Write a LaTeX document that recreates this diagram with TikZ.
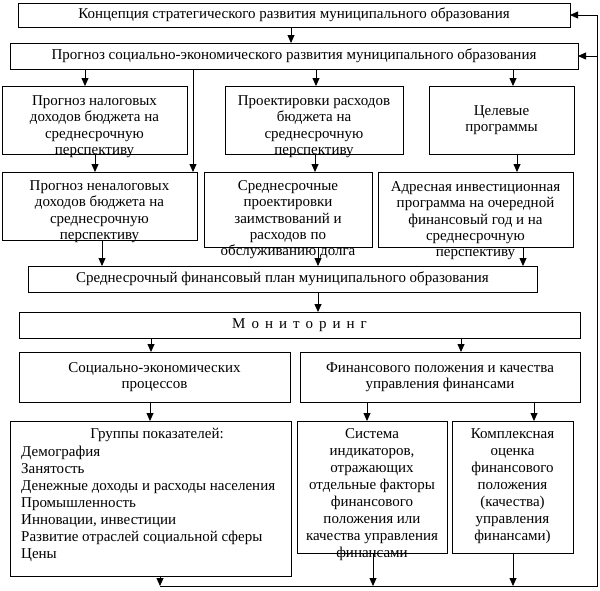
\documentclass[tikz,border=0pt]{standalone}
\usepackage{fontspec}
\setmainfont{Liberation Serif}
\usetikzlibrary{arrows.meta,fit}
\begin{document}
\begin{tikzpicture}[x=1pt,y=-1pt,
  box/.style={draw, line width=0.8pt, inner sep=0pt, outer sep=0pt},
  tbox/.style={draw, line width=0.8pt, inner sep=0pt, outer sep=0pt, align=center,
    font=\fontsize{15}{16.3}\selectfont},
  txt/.style={align=center, inner sep=0pt, font=\fontsize{15}{16.3}\selectfont},
  ltxt/.style={align=center, inner sep=0pt, font=\fontsize{15}{17}\selectfont},
  arr/.style={line width=0.8pt, -{Triangle[length=8pt,width=7pt]}},
  ln/.style={line width=0.8pt}]
\useasboundingbox (0,0) rectangle (600,590);
% row 1-2
\node[tbox, minimum width=552pt, minimum height=24pt] (K1) at (294,15) {Концепция стратегического развития муниципального образования};
\node[tbox, minimum width=568pt, minimum height=26pt] (K2) at (294,56) {Прогноз социально-экономического развития муниципального образования};
% row 3
\node[box, fit={(2,86) (187,154)}] (A) {};
\node[txt, anchor=north] (At) at (94.5,95.5) {Прогноз налоговых\\доходов бюджета на\\среднесрочную\\перспективу};
\node[box, fit={(225,86) (403,154)}] (B) {};
\node[txt, anchor=north] (Bt) at (314,95.5) {Проектировки расходов\\бюджета на\\среднесрочную\\перспективу};
\node[tbox, minimum width=145pt, minimum height=68pt] (C) at (501.5,120) {Целевые\\программы};
% row 4
\node[box, fit={(2,172) (197,240)}] (D) {};
\node[txt, anchor=north] (Dt) at (99.5,180.5) {Прогноз неналоговых\\доходов бюджета на\\среднесрочную\\перспективу};
\node[box, fit={(204,172) (372,247)}] (E) {};
\node[txt, anchor=north] (Et) at (288,180.5) {Среднесрочные\\проектировки\\заимствований и\\расходов по\\обслуживанию долга};
\node[box, fit={(378,172) (573,247)}] (F) {};
\node[txt, anchor=north] (Ft) at (475.5,181.5) {Адресная инвестиционная\\программа на очередной\\финансовый год и на\\среднесрочную\\перспективу};
% row 5-7
\node[tbox, minimum width=509pt, minimum height=26pt] (G) at (282.5,279) {Среднесрочный финансовый план муниципального образования};
\node[tbox, minimum width=561pt, minimum height=26pt] (M) at (299.5,325) {М\hspace{6pt}о\hspace{6pt}н\hspace{6pt}и\hspace{6pt}т\hspace{6pt}о\hspace{6pt}р\hspace{6pt}и\hspace{6pt}н\hspace{6pt}г};
\node[tbox, minimum width=271pt, minimum height=50pt] (H) at (154.5,377) {Социально-экономических\\процессов};
\node[tbox, minimum width=280pt, minimum height=50pt] (I) at (440,377) {Финансового положения и качества\\управления финансами};
% row 8
\node[box, fit={(10,421) (291,576)}] (J) {};
\node[ltxt, anchor=north] (Jh) at (157,428.5) {Группы показателей:};
\node[ltxt, anchor=north west, align=left] (Jl) at (21,445.5) {Демография\\Занятость\\Денежные доходы и расходы населения\\Промышленность\\Инновации, инвестиции\\Развитие отраслей социальной сферы\\Цены};
\node[box, fit={(297,421) (447,553)}] (K) {};
\node[ltxt, anchor=north] (Kt) at (372,428.5) {Система\\индикаторов,\\отражающих\\отдельные факторы\\финансового\\положения или\\качества управления\\финансами};
\node[box, fit={(452,421) (573,553)}] (L) {};
\node[ltxt, anchor=north] (Lt) at (512.5,428.5) {Комплексная\\оценка\\финансового\\положения\\(качества)\\управления\\финансами)};
% feedback coordinates
\coordinate (bl) at (160,586);
\coordinate (br) at (597,586);
\coordinate (tr) at (597,15);
% connectors
\draw[arr] (K1.south -| 291,0) -- (K2.north -| 291,0);
\draw[arr] (K2.south -| 85,0) -- (A.north -| 85,0);
\draw[arr] (K2.south -| 193,0) -- (D.north -| 193,0);
\draw[arr] (K2.south -| 316,0) -- (B.north -| 316,0);
\draw[arr] (K2.south -| 513,0) -- (C.north -| 513,0);
\draw[arr] (A.south -| 95,0) -- (D.north -| 95,0);
\draw[arr] (B.south -| 315,0) -- (E.north -| 315,0);
\draw[arr] (C.south -| 517,0) -- (F.north -| 517,0);
\draw[arr] (D.south -| 102,0) -- (G.north -| 102,0);
\draw[arr] (E.south -| 318,0) -- (G.north -| 318,0);
\draw[arr] (F.south -| 523,0) -- (G.north -| 523,0);
\draw[arr] (G.south -| 318,0) -- (M.north -| 318,0);
\draw[arr] (M.south -| 151,0) -- (H.north -| 151,0);
\draw[arr] (M.south -| 461,0) -- (I.north -| 461,0);
\draw[arr] (H.south -| 150,0) -- (J.north -| 150,0);
\draw[arr] (I.south -| 367,0) -- (K.north -| 367,0);
\draw[arr] (I.south -| 534,0) -- (L.north -| 534,0);
\draw[arr] (J.south -| bl) -- (bl);
\draw[arr] (K.south -| 373,0) -- (bl -| 373,0);
\draw[arr] (L.south -| 513,0) -- (bl -| 513,0);
\draw[ln] (bl) -- (br) -- (tr);
\draw[arr] (tr) -- (K1.east);
\draw[arr] (tr |- K2.east) -- (K2.east);
\end{tikzpicture}
\end{document}
